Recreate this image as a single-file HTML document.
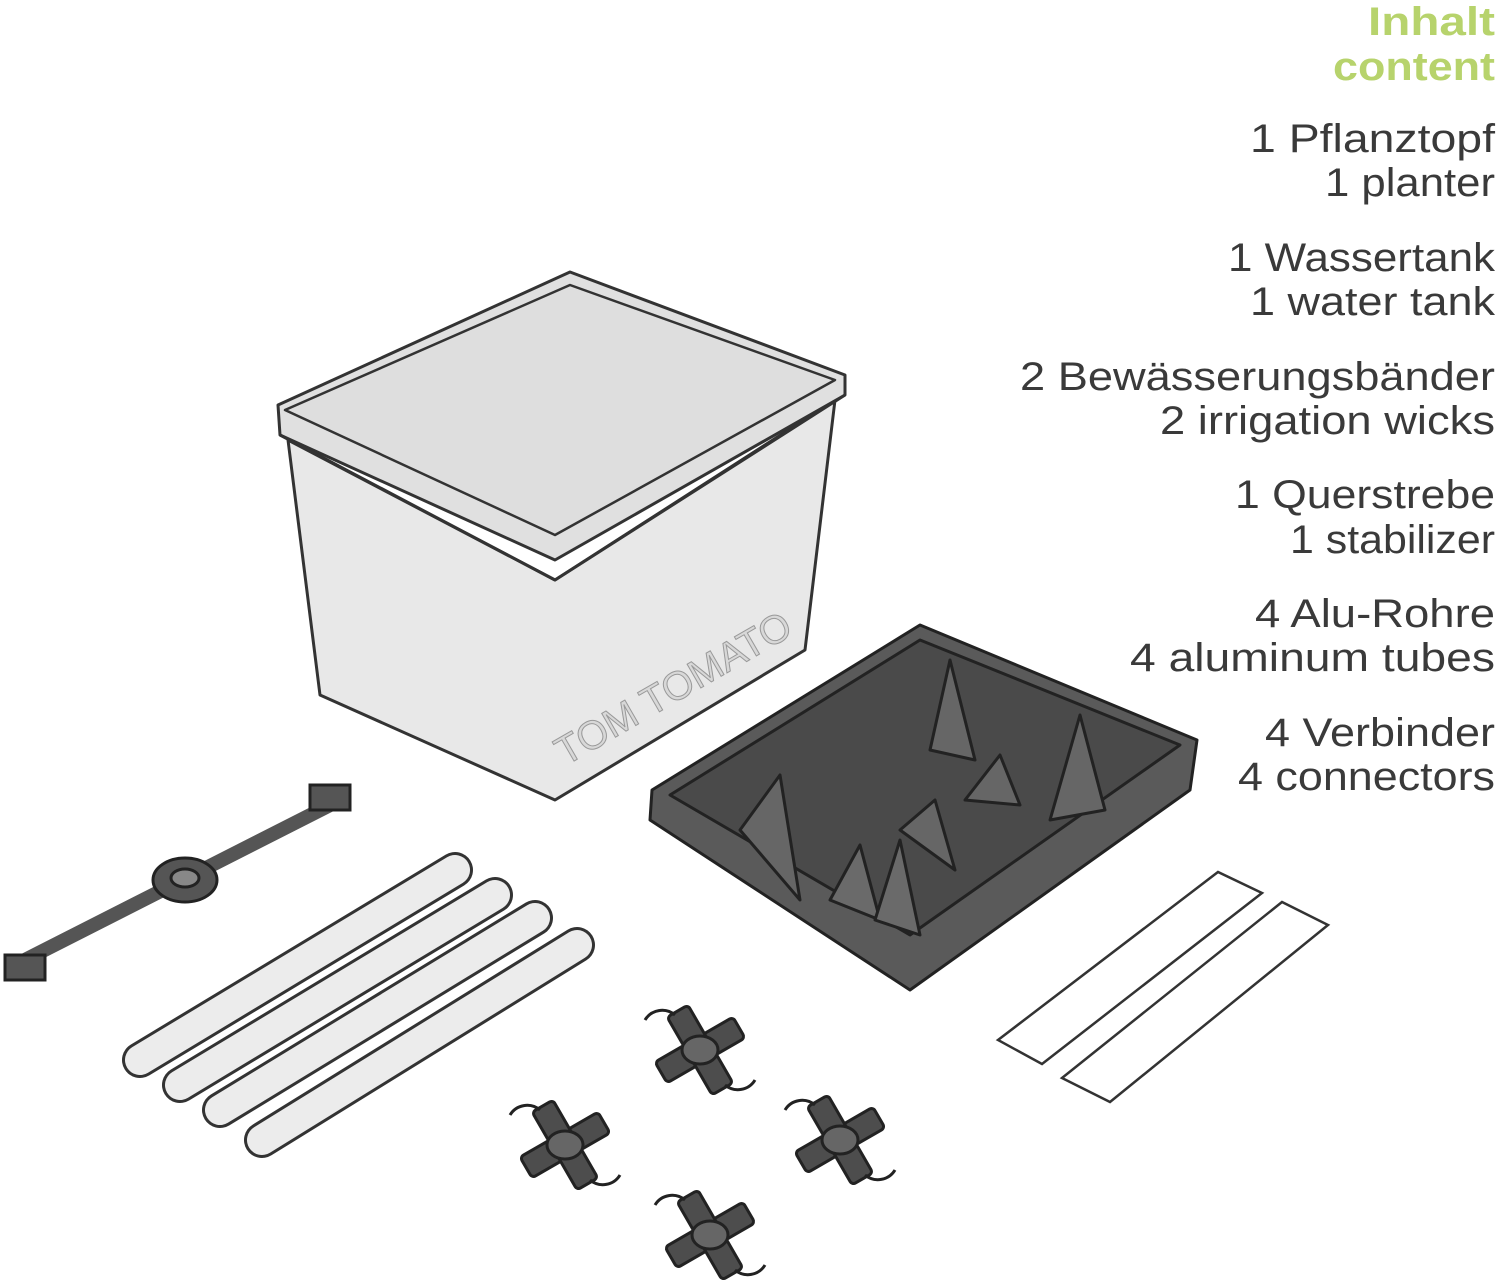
<!DOCTYPE html>
<html><head><meta charset="utf-8"><style>
html,body{margin:0;padding:0;background:#fff;}
svg{display:block;}
text{font-family:"Liberation Sans",sans-serif;}
</style></head><body>
<svg width="1500" height="1287" viewBox="0 0 1500 1287" xmlns="http://www.w3.org/2000/svg">
<defs>
<g id="c" stroke="#222" stroke-width="3" fill="#4d4d4d">
<rect x="-45" y="-12" width="90" height="24" rx="4" transform="rotate(-30)"/>
<rect x="-12" y="-45" width="24" height="90" rx="4" transform="rotate(-30)"/>
<ellipse cx="0" cy="0" rx="18" ry="14" fill="#666"/>
<path d="M-55,-30 A20,20 0 0 1 -25,-35" fill="none"/>
<path d="M55,30 A20,20 0 0 1 25,35" fill="none"/>
</g>
</defs>
<g text-anchor="end" fill="#3a3a3a" font-size="40">
<text x="1495" y="35" fill="#b7d36c" font-weight="bold" textLength="127" lengthAdjust="spacingAndGlyphs">Inhalt</text>
<text x="1495" y="80" fill="#b7d36c" font-weight="bold" textLength="162" lengthAdjust="spacingAndGlyphs">content</text>
<text x="1495" y="152" textLength="245" lengthAdjust="spacingAndGlyphs">1 Pflanztopf</text>
<text x="1495" y="196" textLength="170" lengthAdjust="spacingAndGlyphs">1 planter</text>
<text x="1495" y="271" textLength="267" lengthAdjust="spacingAndGlyphs">1 Wassertank</text>
<text x="1495" y="315" textLength="245" lengthAdjust="spacingAndGlyphs">1 water tank</text>
<text x="1495" y="390" textLength="475" lengthAdjust="spacingAndGlyphs">2 Bewässerungsbänder</text>
<text x="1495" y="434" textLength="335" lengthAdjust="spacingAndGlyphs">2 irrigation wicks</text>
<text x="1495" y="508" textLength="260" lengthAdjust="spacingAndGlyphs">1 Querstrebe</text>
<text x="1495" y="553" textLength="205" lengthAdjust="spacingAndGlyphs">1 stabilizer</text>
<text x="1495" y="627" textLength="240" lengthAdjust="spacingAndGlyphs">4 Alu-Rohre</text>
<text x="1495" y="671" textLength="365" lengthAdjust="spacingAndGlyphs">4 aluminum tubes</text>
<text x="1495" y="746" textLength="230" lengthAdjust="spacingAndGlyphs">4 Verbinder</text>
<text x="1495" y="790" textLength="257" lengthAdjust="spacingAndGlyphs">4 connectors</text>
</g>

<g stroke="#333" stroke-width="3" stroke-linejoin="round">
<polygon points="288,440 555,580 835,400 805,650 555,800 320,695" fill="#e8e8e8"/>
<polygon points="278,405 570,272 845,375 845,395 555,560 280,435" fill="#e0e0e0"/>
<polygon points="285,410 570,285 835,380 555,535" fill="#dedede" stroke-width="2.5"/>
<path d="M280,435 L555,580 L845,395" fill="none"/>
</g>
<text x="680" y="700" font-size="40" fill="#d8d8d8" stroke="#999" stroke-width="1" transform="rotate(-30 680 700)" text-anchor="middle">TOM TOMATO</text>

<g stroke="#222" stroke-width="3" stroke-linejoin="round">
<polygon points="652,790 920,625 1197,740 1190,790 910,990 650,820" fill="#5a5a5a"/>
<polygon points="670,795 920,640 1180,745 910,935" fill="#4a4a4a"/>
<polygon points="740,830 780,775 800,900" fill="#666"/>
<polygon points="830,900 860,845 880,920" fill="#6a6a6a"/>
<polygon points="875,920 900,840 920,935" fill="#6a6a6a"/>
<polygon points="900,830 935,800 955,870" fill="#666"/>
<polygon points="965,800 1000,755 1020,805" fill="#666"/>
<polygon points="930,750 950,660 975,760" fill="#666"/>
<polygon points="1050,820 1080,715 1105,810" fill="#666"/>
</g>

<g stroke="#222" stroke-width="3">
<line x1="15" y1="965" x2="340" y2="800" stroke="#555" stroke-width="14"/>
<ellipse cx="185" cy="880" rx="32" ry="22" fill="#555"/>
<ellipse cx="185" cy="878" rx="14" ry="9" fill="#888"/>
<rect x="5" y="955" width="40" height="25" fill="#555"/>
<rect x="310" y="785" width="40" height="25" fill="#555"/>
</g>

<g stroke-linecap="round">
<line x1="140" y1="1060" x2="455" y2="870" stroke="#333" stroke-width="36"/>
<line x1="140" y1="1060" x2="455" y2="870" stroke="#ececec" stroke-width="30"/>
<line x1="180" y1="1085" x2="495" y2="895" stroke="#333" stroke-width="36"/>
<line x1="180" y1="1085" x2="495" y2="895" stroke="#ececec" stroke-width="30"/>
<line x1="220" y1="1110" x2="535" y2="918" stroke="#333" stroke-width="36"/>
<line x1="220" y1="1110" x2="535" y2="918" stroke="#ececec" stroke-width="30"/>
<line x1="262" y1="1140" x2="577" y2="945" stroke="#333" stroke-width="36"/>
<line x1="262" y1="1140" x2="577" y2="945" stroke="#ececec" stroke-width="30"/>
</g>

<g fill="#fff" stroke="#333" stroke-width="2.5">
<polygon points="998,1040 1218,872 1262,893 1042,1064"/>
<polygon points="1062,1078 1282,902 1328,925 1110,1102"/>
</g>

<use href="#c" x="700" y="1050"/>
<use href="#c" x="565" y="1145"/>
<use href="#c" x="840" y="1140"/>
<use href="#c" x="710" y="1235"/>
</svg>
</body></html>
